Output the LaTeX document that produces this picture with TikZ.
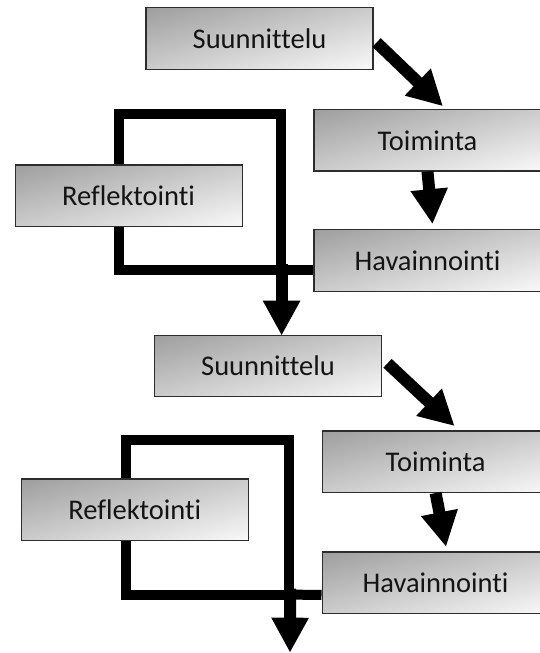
\documentclass[tikz,border=0pt]{standalone}
\usepackage{fontspec}
\setmainfont{Carlito}[Ligatures={NoCommon,NoContextual}]
\usetikzlibrary{arrows.meta,calc,backgrounds}
\definecolor{boxline}{RGB}{45,45,45}
\definecolor{textc}{RGB}{20,20,20}
\pgfdeclarefunctionalshading{diagbox}{\pgfpoint{0bp}{0bp}}{\pgfpoint{100bp}{100bp}}{}{
  25 sub 50 div neg 1 add exch 25 sub 50 div add 2 div 0.356 mul 0.62 add dup dup
}
\begin{document}
\begin{tikzpicture}[x=1pt,y=-1pt,
  box/.style={draw=boxline, line width=1.2pt, shade, shading=diagbox,
    minimum width=227pt, minimum height=61.5pt, inner sep=0pt,
    font=\fontsize{28.5}{34}\selectfont, text=textc},
  loopline/.style={line width=10pt, line join=miter, black},
  bigarrow/.style={line width=12pt, black, -{Triangle[length=35pt,width=35pt]}}]
\useasboundingbox (0,0) rectangle (540,653);
\clip (0,0) rectangle (540,653);
% block 1
\node[box] (s1) at (259.5,38.5) {Suunnittelu};
\node[box] (t1) at (427.5,140.3) {Toiminta};
\node[box] (h1) at (427.5,260.5) {Havainnointi};
\node[box] (r1) at (128.6,195.8) {Reflektointi};
% block 2
\node[box] (s2) at (268,366) {Suunnittelu};
\node[box] (t2) at (435.6,461.7) {Toiminta};
\node[box] (h2) at (435.6,582.8) {Havainnointi};
\node[box] (r2) at (134.8,509.8) {Reflektointi};
\coordinate (a1) at (118.5,113.7);
\coordinate (b1) at (280.6,270);
\coordinate (a2) at (125.7,439.5);
\coordinate (b2) at (289.2,594.7);
\coordinate (end2) at (290,652.7);
\begin{scope}[on background layer]
  \draw[loopline] (r1.north -| a1) -- (a1) -| (b1) -| (r1.south -| a1);
  \draw[loopline] ($(h1.west)+(0,9.5)$) -- (b1);
  \draw[loopline] (r2.north -| a2) -- (a2) -| (b2) -| (r2.south -| a2);
  \draw[loopline] ($(h2.west)+(0,12)$) -- (b2);
\end{scope}
\draw[bigarrow] ($(s1.east)+(3,4)$) -- ($(t1.north)+(15.5,-2.7)$);
\draw[bigarrow] (t1.south) -- ($(h1.north)+(5,-5)$);
\draw[bigarrow] ($(b1)+(1,-6)$) -- ($(s2.north -| b1)+(1,1)$);
\draw[bigarrow] ($(s2.east)+(5.4,-2.7)$) -- ($(t2.north)+(19,-4.3)$);
\draw[bigarrow] (t2.south) -- ($(h2.north)+(10.5,-4.6)$);
\draw[bigarrow] ($(b2)+(1,-6)$) -- (end2);
\end{tikzpicture}
\end{document}
